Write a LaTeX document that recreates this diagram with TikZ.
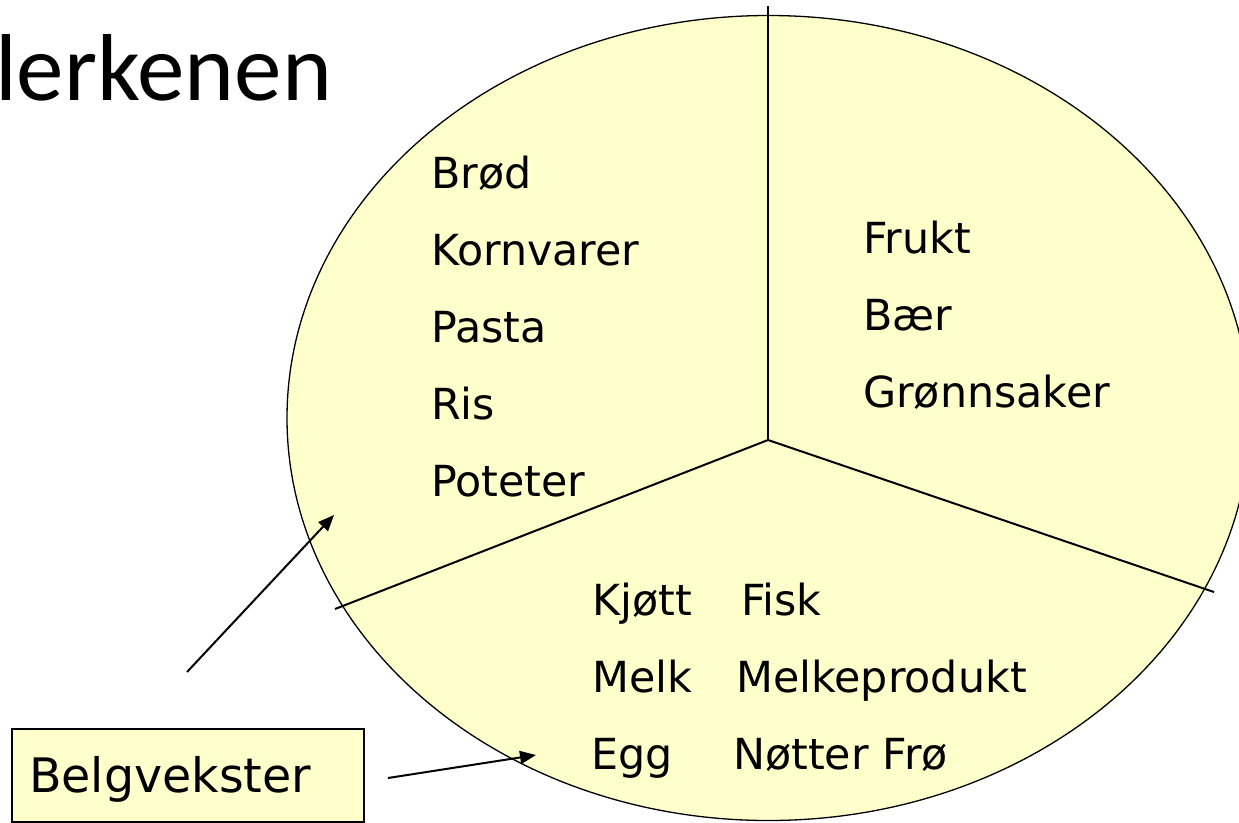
\documentclass[tikz,border=0pt]{standalone}
\usepackage{fontspec}
\setmainfont{DejaVu Sans}
\newfontfamily\titlefont{Carlito}
\usetikzlibrary{arrows.meta,shapes.geometric}
\definecolor{plate}{HTML}{FFFFCC}
\begin{document}
\begin{tikzpicture}[x=1pt,y=-1pt,
  food/.style={anchor=base west,inner sep=0pt,font=\fontsize{42.8}{50}\selectfont},
  divider/.style={line width=2pt,line cap=butt},
  pointer/.style={line width=2pt,-{Triangle[length=16pt,width=13pt]}}]
\useasboundingbox (0,0) rectangle (1239,822);
\clip (0,0) rectangle (1239,822);
% title
\node[anchor=base west,inner sep=0pt,font=\titlefont\fontsize{95}{110}\selectfont] (title) at (-5,100) {lerkenen};
% plate
\node[draw,line width=1.3pt,fill=plate,ellipse,minimum width=963pt,minimum height=805pt,inner sep=0pt] (plate) at (768.5,418) {};
% dividers
\coordinate (mid) at (768,440);
\coordinate (top) at (768,6);
\coordinate (left) at (335,609);
\coordinate (right) at (1214,592);
\draw[divider] (top) -- (mid);
\draw[divider] (mid) -- (left);
\draw[divider] (mid) -- (right);
% left sector
\node[food] (brod) at (431,188) {Brød};
\node[food] (korn) at (431,265) {Kornvarer};
\node[food] (pasta) at (431,342) {Pasta};
\node[food] (ris) at (431,419) {Ris};
\node[food] (pot) at (431,496) {Poteter};
% right sector
\node[food] (frukt) at (863,253) {Frukt};
\node[food] (baer) at (863,330) {Bær};
\node[food] (gronn) at (863,407) {Grønnsaker};
% bottom sector
\node[food] (kjott) at (592,615) {Kjøtt};
\node[food] (fisk) at (741,615) {Fisk};
\node[food] (melk) at (592,692) {Melk};
\node[food] (melkp) at (736,692) {Melkeprodukt};
\node[food] (egg) at (591,769) {Egg};
\node[food] (notter) at (733,769) {Nøtter Frø};
% legend box
\node[draw,line width=2pt,fill=plate,anchor=north west,minimum width=352pt,minimum height=93pt,inner sep=0pt] (belg) at (11,728) {};
\node[anchor=base west,inner sep=0pt,font=\fontsize{47.5}{55}\selectfont] (belgtext) at (29,792) {Belgvekster};
% arrows
\coordinate (a1s) at (187,672);
\coordinate (a1e) at (334,515);
\coordinate (a2s) at (388,778);
\coordinate (a2e) at (536,755);
\draw[pointer] (a1s) -- (a1e);
\draw[pointer] (a2s) -- (a2e);
\end{tikzpicture}
\end{document}
